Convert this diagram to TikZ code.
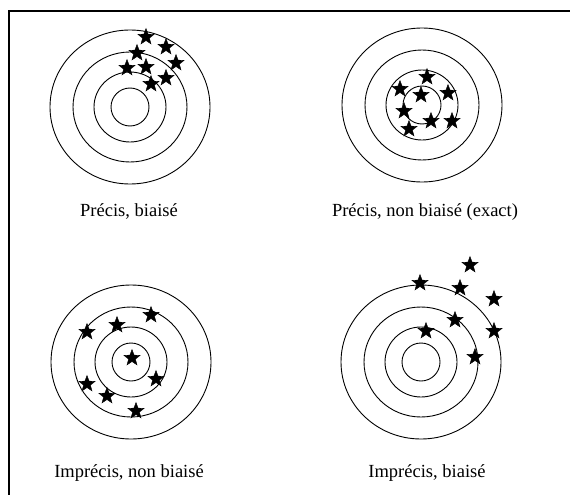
\documentclass[tikz,border=0pt]{standalone}
\usepackage{fontspec}
\setmainfont{Liberation Serif}
\usetikzlibrary{shapes.geometric}
\newcommand\mytarget[1]{%
  \draw[ring] (#1) ellipse[x radius=19,y radius=19];
  \draw[ring] (#1) ellipse[x radius=36,y radius=35];
  \draw[ring] (#1) ellipse[x radius=57,y radius=55];
  \draw[ring] (#1) ellipse[x radius=80,y radius=77];}
\begin{document}
\begin{tikzpicture}[x=1pt,y=-1pt,
  ring/.style={line width=0.9pt},
  starmark/.style={star, star points=5, star point ratio=2.4, fill=black, draw=black, line width=0.4pt, minimum size=17pt, inner sep=0pt},
  lbl/.style={anchor=base, font=\fontsize{18.5}{22}\selectfont, inner sep=0pt}]
\useasboundingbox (0,0) rectangle (570,495);
\clip (0,0) rectangle (570,495);
\draw[line width=1.5pt] (9,500) -- (9,11) -- (575,11);
% targets
\coordinate (c1) at (130,107);
\coordinate (c2) at (422,105);
\coordinate (c3) at (131,362);
\coordinate (c4) at (421,362);
\mytarget{c1}
\mytarget{c2}
\mytarget{c3}
\mytarget{c4}
% stars Q1
\node[starmark] (a1) at (146,37) {};
\node[starmark] (a2) at (166,47) {};
\node[starmark] (a3) at (137,53) {};
\node[starmark] (a4) at (176,63) {};
\node[starmark] (a5) at (127,68) {};
\node[starmark] (a6) at (146,67) {};
\node[starmark] (a7) at (166,78) {};
\node[starmark] (a8) at (151,84) {};
% stars Q2
\node[starmark] (b1) at (427,77) {};
\node[starmark] (b2) at (400,89) {};
\node[starmark] (b3) at (421,95) {};
\node[starmark] (b4) at (448,93) {};
\node[starmark] (b5) at (404,111) {};
\node[starmark] (b6) at (431,121) {};
\node[starmark] (b7) at (452,121) {};
\node[starmark] (b8) at (409,129) {};
% stars Q3
\node[starmark] (d1) at (151,315) {};
\node[starmark] (d2) at (117,325) {};
\node[starmark] (d3) at (87,332) {};
\node[starmark] (d4) at (132,358) {};
\node[starmark] (d5) at (156,379) {};
\node[starmark] (d6) at (87,384) {};
\node[starmark] (d7) at (107,396) {};
\node[starmark] (d8) at (136,411) {};
% stars Q4
\node[starmark] (e1) at (470,265) {};
\node[starmark] (e2) at (420,283) {};
\node[starmark] (e3) at (460,288) {};
\node[starmark] (e4) at (494,299) {};
\node[starmark] (e5) at (455,320) {};
\node[starmark] (e6) at (426,331) {};
\node[starmark] (e7) at (494,331) {};
\node[starmark] (e8) at (475,357) {};
% labels
\node[lbl] (l1) at (129,216.5) {Précis, biaisé};
\node[lbl] (l2) at (425,216.5) {Précis, non biaisé (exact)};
\node[lbl] (l3) at (129,477.5) {Imprécis, non biaisé};
\node[lbl] (l4) at (427,477.5) {Imprécis, biaisé};
\end{tikzpicture}
\end{document}
